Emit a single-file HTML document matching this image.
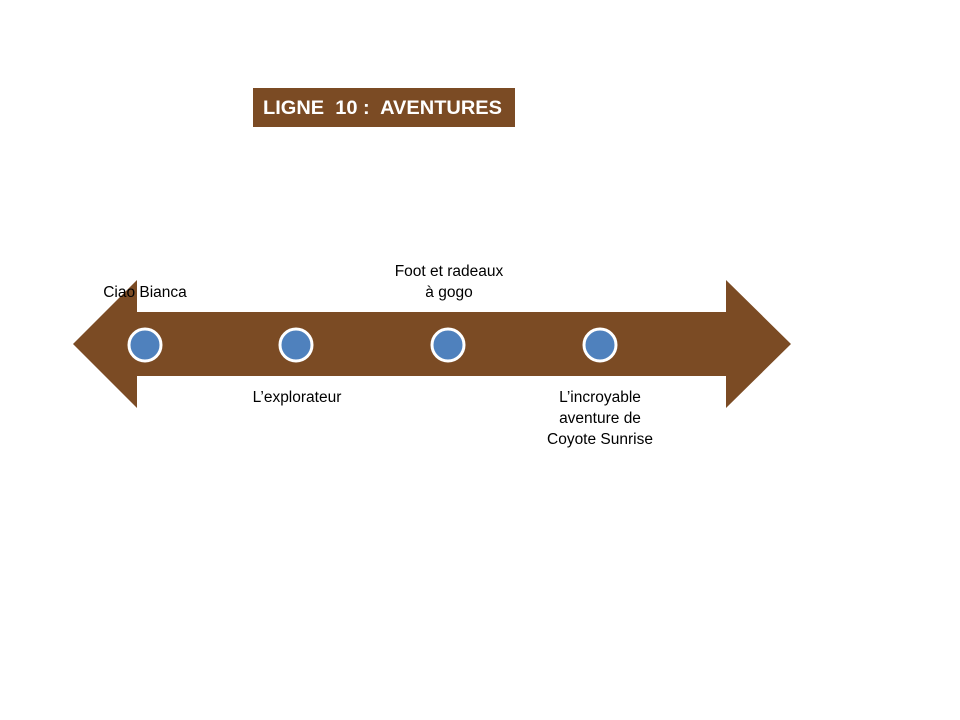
<!DOCTYPE html>
<html><head><meta charset="utf-8"><style>html,body{margin:0;padding:0;background:#fff;}svg{display:block}</style></head>
<body>
<svg width="960" height="720" viewBox="0 0 960 720" xmlns="http://www.w3.org/2000/svg" font-family="Liberation Sans, sans-serif">
<rect x="253" y="88" width="262" height="39" fill="#7b4b24"/>
<text x="263" y="114" font-size="19" font-weight="bold" fill="#fff" textLength="239" lengthAdjust="spacingAndGlyphs" xml:space="preserve">LIGNE  10 :  AVENTURES</text>
<polygon points="73,344 137,280 137,312 726,312 726,280 791,344 726,408 726,376 137,376 137,408" fill="#7b4b24"/>
<g fill="#4f81bd" stroke="#fff" stroke-width="3">
<circle cx="145" cy="345" r="16"/><circle cx="296" cy="345" r="16"/><circle cx="448" cy="345" r="16"/><circle cx="600" cy="345" r="16"/>
</g>
<g font-size="15.5" fill="#000" text-anchor="middle">
<text x="145" y="297">Ciao Bianca</text>
<text x="449" y="276">Foot et radeaux</text>
<text x="449" y="297">à gogo</text>
<text x="297" y="402">L’explorateur</text>
<text x="600" y="402">L’incroyable</text>
<text x="600" y="423">aventure de</text>
<text x="600" y="444">Coyote Sunrise</text>
</g>
</svg>
</body></html>
